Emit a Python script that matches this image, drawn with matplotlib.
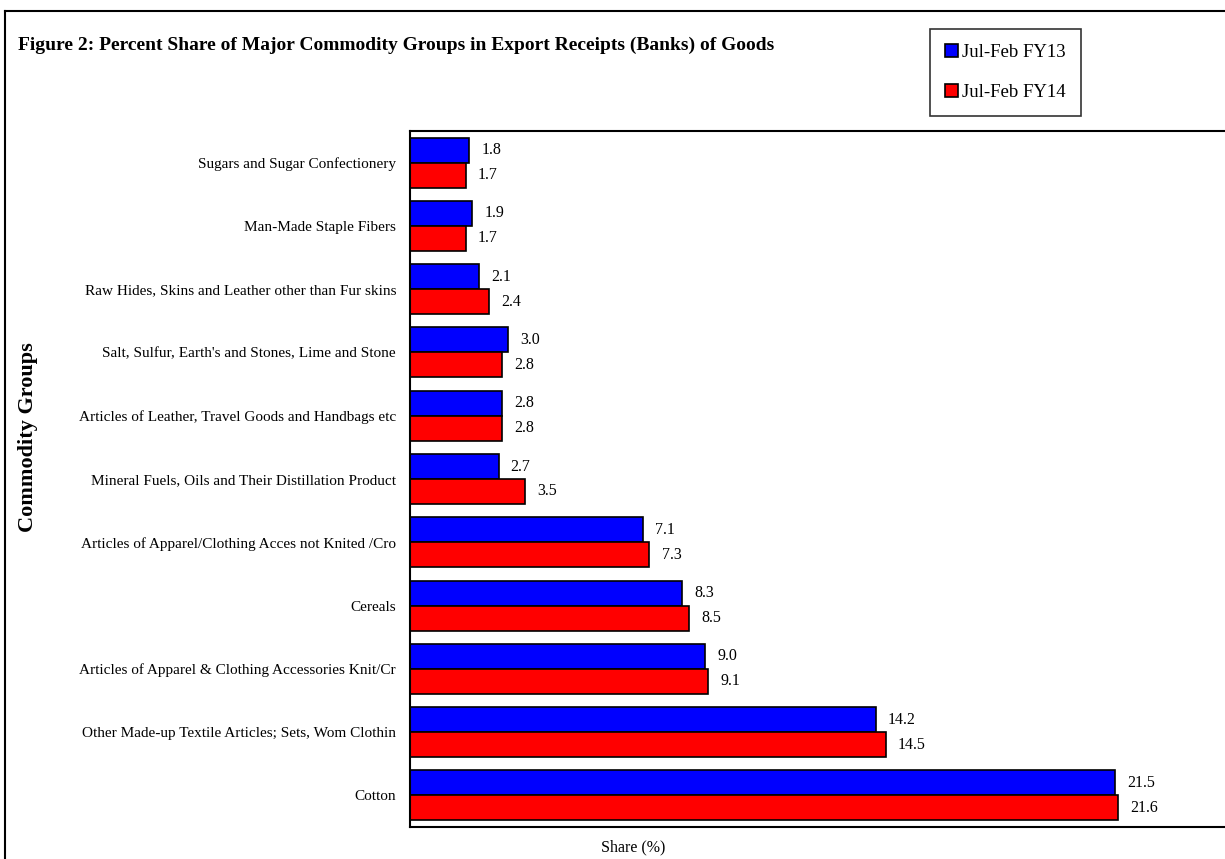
import numpy as np
import matplotlib
matplotlib.use('Agg')
import matplotlib.pyplot as plt
from matplotlib.lines import Line2D

plt.rcParams['font.family'] = ['Liberation Serif', 'DejaVu Serif']

categories = [
    'Sugars and Sugar Confectionery',
    'Man-Made Staple Fibers',
    'Raw Hides, Skins and Leather other than Fur skins',
    "Salt, Sulfur, Earth's and Stones, Lime and Stone",
    'Articles of Leather, Travel Goods and Handbags etc',
    'Mineral Fuels, Oils and Their Distillation Product',
    'Articles of Apparel/Clothing Acces not Knited /Cro',
    'Cereals',
    'Articles of Apparel & Clothing Accessories Knit/Cr',
    'Other Made-up Textile Articles; Sets, Wom Clothin',
    'Cotton',
]
fy13 = [1.8, 1.9, 2.1, 3.0, 2.8, 2.7, 7.1, 8.3, 9.0, 14.2, 21.5]
fy14 = [1.7, 1.7, 2.4, 2.8, 2.8, 3.5, 7.3, 8.5, 9.1, 14.5, 21.6]
series_names = ['Jul-Feb FY13', 'Jul-Feb FY14']

W, H = 1225, 859
fig = plt.figure(figsize=(W / 100, H / 100), dpi=100)
ax = fig.add_axes([410 / W, 1 - 827 / H, 1 - 410 / W + 0.01, (827 - 131) / H])

y = np.arange(len(categories))
h = 0.395
b1 = ax.barh(y - h / 2, fy13, height=h, color='#0000ff', edgecolor='black', linewidth=1.2, label=series_names[0])
b2 = ax.barh(y + h / 2, fy14, height=h, color='#ff0000', edgecolor='black', linewidth=1.2, label=series_names[1])

# value labels at the end of each bar
for bars, vals in [(b1, fy13), (b2, fy14)]:
    for bar, v in zip(bars, vals):
        ax.text(v + 0.37, bar.get_y() + bar.get_height() / 2, f'{v:.1f}',
                va='center', ha='left', fontsize=11.5)

ax.set_ylim(len(categories) - 0.5, -0.5)
ax.set_xlim(0, 24.85 * (1 + 0.01 * W / (W - 410)))
ax.set_yticks(y)
ax.set_yticklabels(categories, fontsize=11)
ax.tick_params(axis='y', length=0, pad=10)
ax.set_xticks([])
ax.spines['right'].set_visible(False)
for s in ['left', 'top', 'bottom']:
    ax.spines[s].set_linewidth(1.5)

fig.text(18 / W, 1 - 45 / H, 'Figure 2: Percent Share of Major Commodity Groups in Export Receipts (Banks) of Goods',
         fontsize=14, fontweight='bold', va='center', ha='left')
fig.text(28 / W, 1 - 437 / H, 'Commodity Groups', rotation=90, fontsize=16, fontweight='bold',
         va='center', ha='center')
fig.text(633 / W, 1 - 847 / H, 'Share (%)', fontsize=11.5, va='center', ha='center')

leg = fig.legend(handles=[b1, b2], loc='upper left', bbox_to_anchor=(930 / W, 1 - 29 / H),
                 fontsize=13.5, frameon=True, fancybox=False, edgecolor='black',
                 handlelength=0.7, handleheight=0.7, handletextpad=0.2, labelspacing=1.2,
                 borderpad=0.8, borderaxespad=0)
leg.get_frame().set_linewidth(1.2)

# outer frame of the figure
fig.add_artist(Line2D([5 / W, 1], [1 - 11 / H, 1 - 11 / H], color='black', linewidth=1.5, transform=fig.transFigure))
fig.add_artist(Line2D([5 / W, 5 / W], [0, 1 - 11 / H], color='black', linewidth=1.5, transform=fig.transFigure))

fig.savefig('out.png', dpi=100)
